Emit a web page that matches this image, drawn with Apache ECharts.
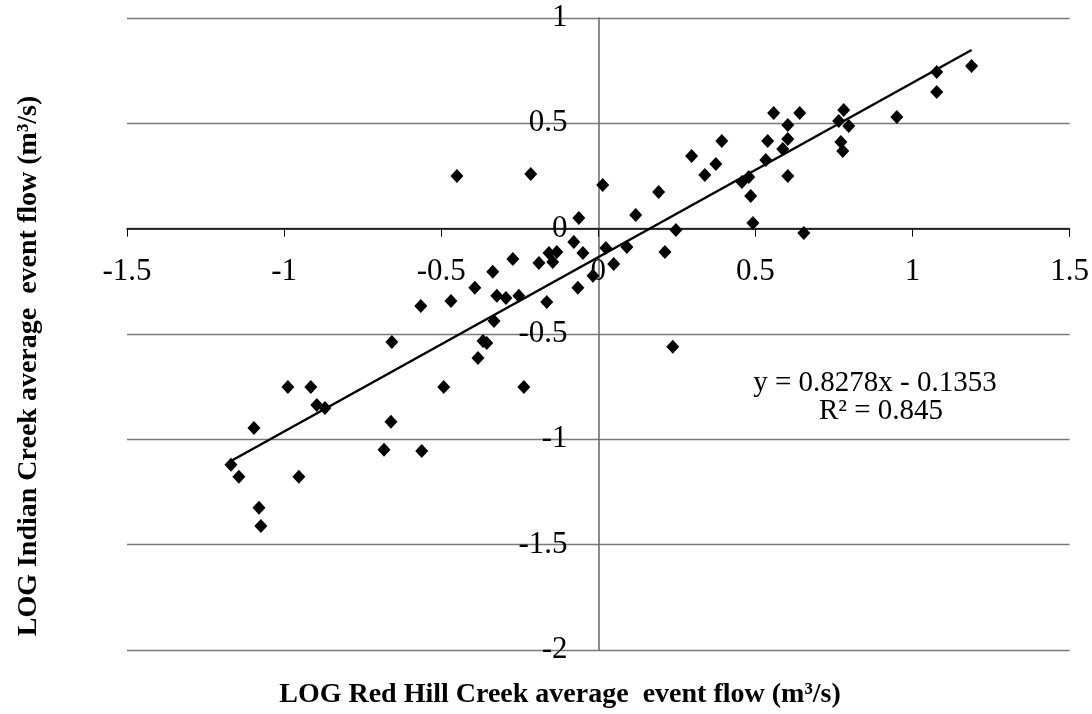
<!DOCTYPE html>
<html>
<head>
<meta charset="utf-8">
<script src="https://cdn.jsdelivr.net/npm/echarts@6/dist/echarts.min.js"></script>
<style>
  html, body { margin: 0; padding: 0; background: #fff; }
  #chart { width: 1092px; height: 714px; }
</style>
</head>
<body>
<div id="chart"></div>
<script>
// LOG of average event flow, Red Hill Creek (x) vs Indian Creek (y)
const redHillLog = [
  -1.169, -1.144, -1.096, -1.080, -1.074, -0.988, -0.915, -0.896, -0.870, -0.953,
  -0.660, -0.682, -0.562, -0.492, -0.657, -0.565, -0.469, -0.393, -0.450, -0.215,
   0.014, -0.062, -0.078, -0.049, -0.157, -0.132, -0.145, -0.189, -0.272, -0.336,
  -0.323, -0.294, -0.253, -0.164, -0.065, -0.017,  0.024,  0.049,  0.091, -0.332,
  -0.367, -0.355, -0.383, -0.237,  0.237,  0.119,  0.192,  0.247,  0.212,  0.297,
   0.339,  0.374,  0.393,  0.457,  0.479,  0.485,  0.492,  0.533,  0.539,  0.558,
   0.641,  0.603,  0.603,  0.587,  0.603,  0.654,  0.781,  0.765,  0.797,  0.772,
   0.778,  0.950,  1.077,  1.077,  1.188
];
const indianLog = [
  -1.121, -1.178, -0.946, -1.325, -1.411, -0.751, -0.751, -0.837, -0.851, -1.178,
  -0.917, -1.050, -1.055, -0.751, -0.538, -0.367, -0.343, -0.281,  0.250,  0.260,
   0.207,  0.051, -0.063, -0.116, -0.115, -0.111, -0.158, -0.163, -0.144, -0.205,
  -0.319, -0.329, -0.319, -0.348, -0.281, -0.224, -0.092, -0.168, -0.087, -0.438,
  -0.533, -0.543, -0.614, -0.751, -0.561,  0.065,  0.174, -0.006, -0.111,  0.345,
   0.255,  0.307,  0.416,  0.222,  0.245,  0.155,  0.027,  0.326,  0.416,  0.549,
   0.549,  0.492,  0.426,  0.378,  0.250, -0.020,  0.563,  0.511,  0.487,  0.411,
   0.369,  0.530,  0.744,  0.649,  0.772
];

// Linear trendline reported on the chart
const trendSlope = 0.8278;
const trendIntercept = -0.1353;
const trendR2 = 0.845;

const xTicks = { min: -1.5, max: 1.5, step: 0.5 };
const yTicks = { min: -2, max: 1, step: 0.5 };

const xTitle = 'LOG Red Hill Creek average  event flow (m\u00B3/s)';
const yTitle = 'LOG Indian Creek average  event flow (m\u00B3/s)';

const points = redHillLog.map((x, i) => [x, indianLog[i]]);
const xLo = Math.min(...redHillLog);
const xHi = Math.max(...redHillLog);
const trendLine = [
  [xLo, trendSlope * xLo + trendIntercept],
  [xHi, trendSlope * xHi + trendIntercept]
];

const serif = '"Liberation Serif", "Times New Roman", serif';

// plot box
const W = 1092, H = 714;
const gLeft = 127, gRight = 22, gTop = 18, gBottom = 64;
const gW = W - gLeft - gRight, gH = H - gTop - gBottom;
// shift the axes so they cross at (0, 0)
const xAxisShift = -gH * (0 - yTicks.min) / (yTicks.max - yTicks.min);
const yAxisShift = -gW * (0 - xTicks.min) / (xTicks.max - xTicks.min);

const fmt = v => String(Math.round(v * 10) / 10);

const chart = echarts.init(document.getElementById('chart'), null, { renderer: 'canvas' });
chart.setOption({
  animation: false,
  backgroundColor: '#ffffff',
  grid: { left: gLeft, right: gRight, top: gTop, bottom: gBottom, containLabel: false },
  xAxis: {
    type: 'value',
    position: 'bottom',
    offset: xAxisShift,
    min: xTicks.min, max: xTicks.max, interval: xTicks.step,
    axisLine: { show: true, onZero: false, lineStyle: { color: '#000', width: 1.5 } },
    axisTick: { show: true, length: 8, lineStyle: { color: '#000', width: 1 } },
    axisLabel: { color: '#000', fontFamily: serif, fontSize: 31, margin: 28, formatter: fmt },
    splitLine: { show: false }
  },
  yAxis: {
    type: 'value',
    position: 'left',
    offset: yAxisShift,
    min: yTicks.min, max: yTicks.max, interval: yTicks.step,
    axisLine: { show: true, onZero: false, lineStyle: { color: '#666', width: 1.5 } },
    axisTick: { show: false },
    axisLabel: { color: '#000', fontFamily: serif, fontSize: 31, margin: 31, formatter: fmt },
    splitLine: { show: true, lineStyle: { color: '#7a7a7a', width: 1.3 } }
  },
  series: [
    {
      type: 'line',
      data: trendLine,
      showSymbol: false,
      lineStyle: { color: '#000', width: 2.5 },
      z: 3
    },
    {
      type: 'scatter',
      data: points,
      symbol: 'diamond',
      symbolSize: [13, 14],
      itemStyle: { color: '#000', opacity: 1 },
      z: 4
    }
  ],
  graphic: [
    {
      type: 'text',
      style: { text: 'y = ' + trendSlope + 'x - ' + Math.abs(trendIntercept),
        x: 875, y: 383, align: 'center', verticalAlign: 'middle',
        font: '29px ' + serif, fill: '#000' }
    },
    {
      type: 'text',
      style: { text: 'R\u00B2 = ' + trendR2,
        x: 881, y: 411, align: 'center', verticalAlign: 'middle',
        font: '29px ' + serif, fill: '#000' }
    },
    {
      type: 'text',
      style: { text: xTitle, x: 560, y: 695, align: 'center', verticalAlign: 'middle',
        font: 'bold 28px ' + serif, fill: '#000' }
    },
    {
      type: 'text', x: 29, y: 366, rotation: Math.PI / 2,
      style: { text: yTitle, x: 0, y: 0, align: 'center', verticalAlign: 'middle',
        font: 'bold 28px ' + serif, fill: '#000' }
    }
  ]
});
</script>
</body>
</html>
